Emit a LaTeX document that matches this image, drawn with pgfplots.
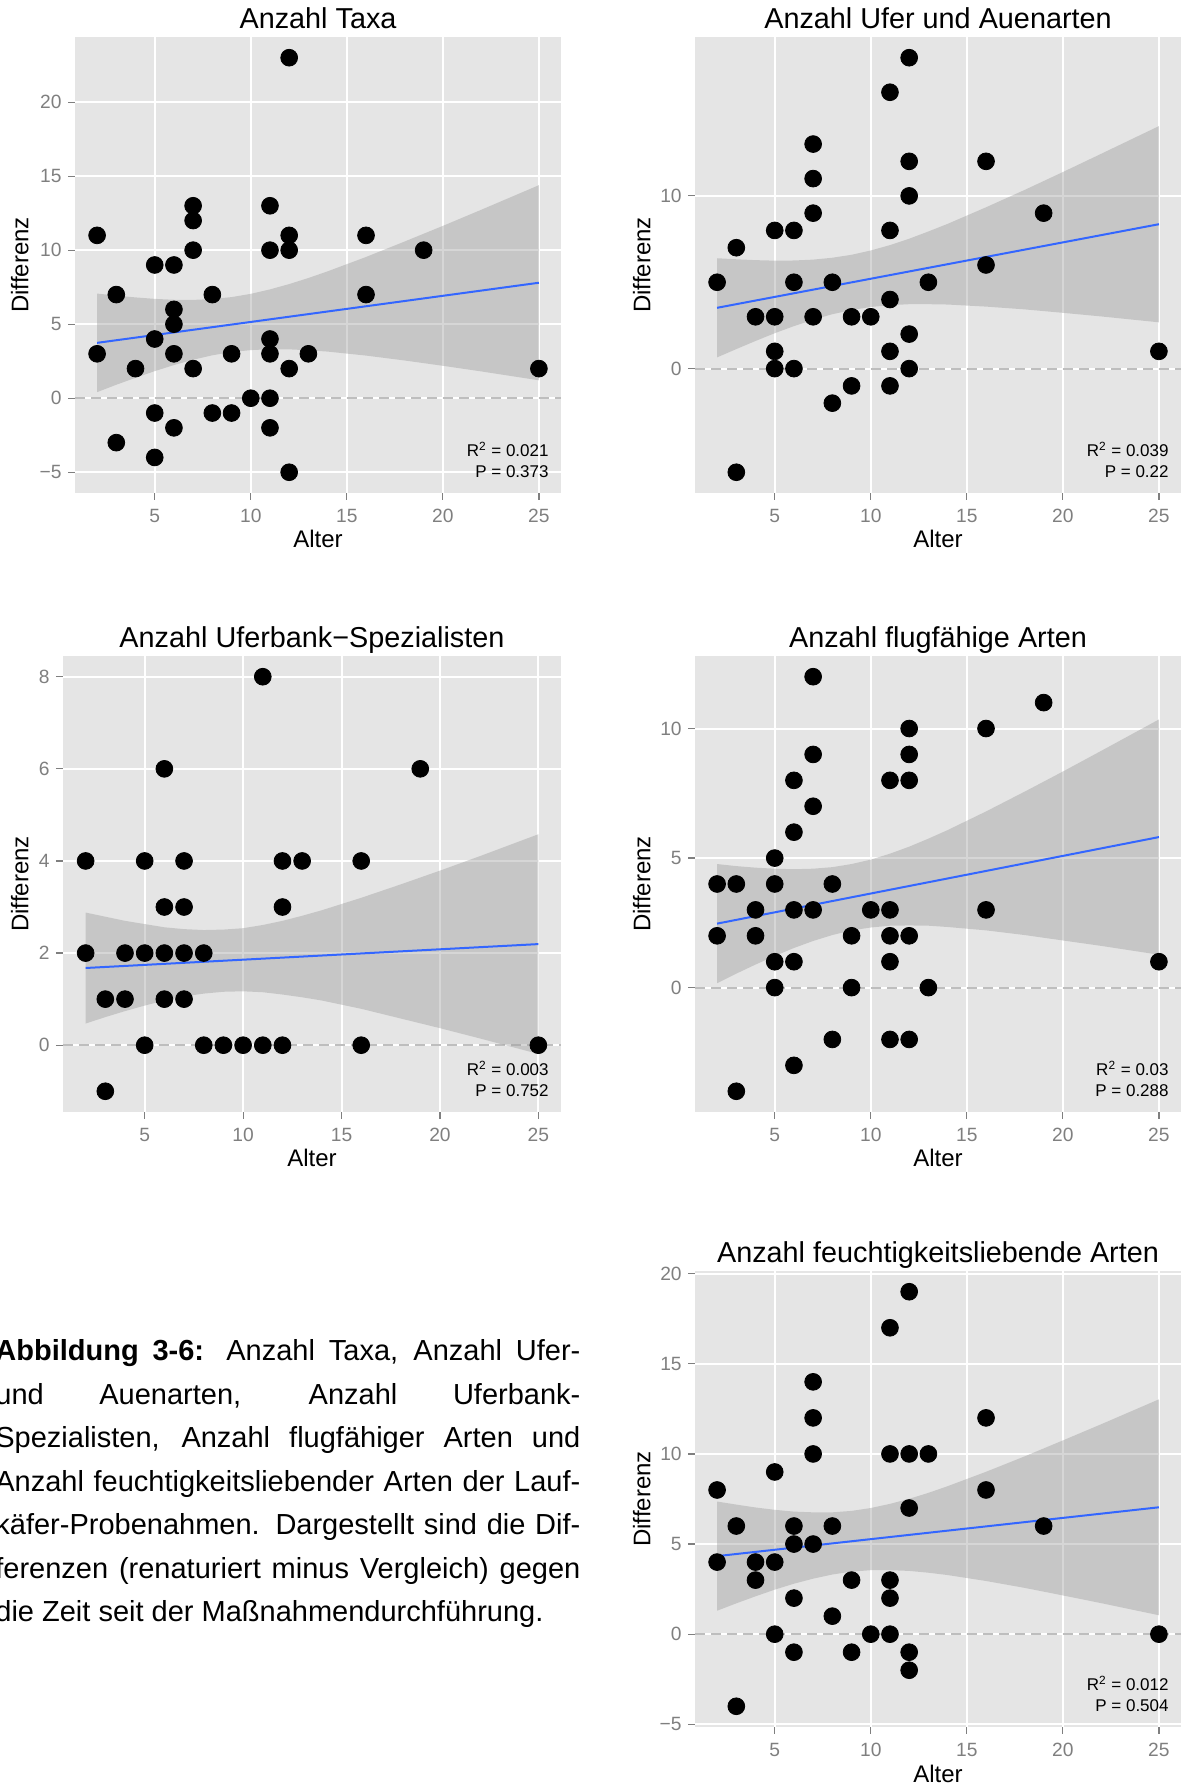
\documentclass[border=0pt]{standalone}
\usepackage{fontspec}
\setmainfont{Liberation Sans}
\usepackage{pgfplots}
\pgfplotsset{compat=1.18}
\definecolor{bggrey}{HTML}{E5E5E5}
\definecolor{tickgrey}{HTML}{7F7F7F}
\definecolor{dashgrey}{HTML}{BEBEBE}
\definecolor{ribbon}{HTML}{999999}
\definecolor{ggblue}{HTML}{3366FF}
\tikzset{ann/.style={anchor=base east, inner sep=0pt, font=\fontsize{8.5}{9}\selectfont}}
\pgfplotsset{
  gg/.style={
    scale only axis, width=243pt, height=228pt,
    xmin=0.85, xmax=26.15,
    xtick={5,10,15,20,25},
    axis background/.style={fill=bggrey},
    axis line style={draw=none},
    grid=major,
    major grid style={white, line width=1pt},
    tick align=outside,
    tick pos=left,
    major tick length=3.5pt,
    tick style={tickgrey, line width=0.6pt},
    ticklabel style={font=\fontsize{9.6}{10}\selectfont, text=tickgrey},
    /pgf/number format/assume math mode=true,
    xticklabel style={anchor=north, inner sep=0pt, yshift=-4.5pt},
    yticklabel style={anchor=east, inner sep=0pt, xshift=-3pt},
    xlabel=Alter, ylabel=Differenz,
    label style={font=\fontsize{12}{14}\selectfont},
    title style={font=\fontsize{14.4}{16}\selectfont, at={(axis description cs:0.5,1)}, anchor=base, yshift=-2pt},
    xlabel style={at={(axis description cs:0.5,0)}, anchor=base, yshift=-27.5pt},
  },
  pts/.style={only marks, mark=*, mark size=4.2pt, black},
  rib/.style={draw=none, fill=ribbon, fill opacity=0.4},
  reg/.style={ggblue, line width=1pt, no marks},
  zero/.style={dashgrey, line width=1pt, dash pattern=on 5pt off 3pt, no marks},
}
\begin{document}
\begin{tikzpicture}
\useasboundingbox (0,0) rectangle (590.5pt,893.5pt);

% Panel 1
\begin{axis}[gg, at={(37.5pt,647pt)}, anchor=south west,
  ymin=-6.4, ymax=24.4, ytick={-5,0,5,10,15,20}, yticklabels={−5,0,5,10,15,20},
  ylabel style={at={(axis description cs:-0.0957,0.5)}, anchor=base},
  title={Anzahl Taxa}]
\addplot[zero] coordinates {(0.85,0) (26.15,0)};
\addplot[rib] coordinates {(2,7.07)(3,6.93)(4,6.81)(5,6.71)(6,6.65)(7,6.64)(8,6.70)(9,6.83)(10,7.05)(11,7.35)(12,7.71)(13,8.12)(14,8.57)(16,9.54)(18,10.58)(20,11.64)(22,12.73)(25,14.39)
 (25,1.21)(22,1.81)(20,2.19)(18,2.55)(16,2.88)(14,3.15)(13,3.24)(12,3.30)(11,3.31)(10,3.25)(9,3.12)(8,2.90)(7,2.60)(6,2.24)(5,1.83)(4,1.38)(3,0.91)(2,0.41)};
\addplot[reg] coordinates {(2,3.74)(25,7.80)};
\addplot[pts] coordinates {(2,11)(2,3)(3,7)(3,-3)(4,2)(5,9)(5,4)(5,-1)(5,-4)(6,9)(6,6)(6,5)(6,3)(6,-2)(7,13)(7,12)(7,10)(7,2)(8,7)(8,-1)(9,3)(9,-1)(10,0)(11,13)(11,10)(11,4)(11,3)(11,0)(11,-2)(12,23)(12,11)(12,10)(12,2)(12,-5)(13,3)(16,11)(16,7)(19,10)(25,2)};
\node[ann] at (rel axis cs:0.9753,0.081) {R\textsuperscript{2} = 0.021};
\node[ann] at (rel axis cs:0.9753,0.035) {P = 0.373};
\end{axis}

% Panel 2
\begin{axis}[gg, at={(347.5pt,647pt)}, anchor=south west,
  ymin=-7.2, ymax=19.2, ytick={0,10}, yticklabels={0,10},
  ylabel style={at={(axis description cs:-0.0916,0.5)}, anchor=base},
  title={Anzahl Ufer und Auenarten}]
\addplot[zero] coordinates {(0.85,0) (26.15,0)};
\addplot[rib] coordinates {(2,6.39)(3,6.33)(4,6.28)(5,6.25)(6,6.26)(7,6.31)(8,6.42)(9,6.59)(10,6.84)(11,7.15)(12,7.52)(13,7.94)(14,8.38)(16,9.34)(18,10.34)(20,11.38)(22,12.44)(25,14.04)
 (25,2.68)(22,3.02)(20,3.23)(18,3.43)(16,3.59)(14,3.71)(13,3.73)(12,3.73)(11,3.67)(10,3.57)(9,3.39)(8,3.15)(7,2.83)(6,2.46)(5,2.05)(4,1.60)(3,1.13)(2,0.65)};
\addplot[reg] coordinates {(2,3.52)(25,8.36)};
\addplot[pts] coordinates {(2,5)(3,7)(3,-6)(4,3)(5,8)(5,3)(5,1)(5,0)(6,8)(6,5)(6,0)(7,13)(7,11)(7,9)(7,3)(8,5)(8,-2)(9,3)(9,-1)(10,3)(11,16)(11,8)(11,4)(11,1)(11,-1)(12,18)(12,12)(12,10)(12,2)(12,0)(13,5)(16,12)(16,6)(19,9)(25,1)};
\node[ann] at (rel axis cs:0.9753,0.081) {R\textsuperscript{2} = 0.039};
\node[ann] at (rel axis cs:0.9753,0.035) {P = 0.22};
\end{axis}

% Panel 3
\begin{axis}[gg, width=249pt, at={(31.5pt,337.5pt)}, anchor=south west,
  ymin=-1.45, ymax=8.45, ytick={0,2,4,6,8}, yticklabels={0,2,4,6,8},
  ylabel style={at={(axis description cs:-0.0693,0.5)}, anchor=base},
  title={Anzahl Uferbank−Spezialisten}]
\addplot[zero] coordinates {(0.85,0) (26.15,0)};
\addplot[rib] coordinates {(2,2.88)(3,2.79)(4,2.70)(5,2.63)(6,2.56)(7,2.52)(8,2.50)(9,2.51)(10,2.54)(11,2.61)(12,2.70)(13,2.81)(14,2.93)(16,3.20)(18,3.49)(20,3.79)(22,4.10)(25,4.58)
 (25,-0.19)(22,0.15)(20,0.37)(18,0.58)(16,0.79)(14,0.97)(13,1.04)(12,1.10)(11,1.15)(10,1.17)(9,1.16)(8,1.12)(7,1.06)(6,0.97)(5,0.86)(4,0.74)(3,0.61)(2,0.47)};
\addplot[reg] coordinates {(2,1.676)(25,2.195)};
\addplot[pts] coordinates {(2,4)(2,2)(3,1)(3,-1)(4,2)(4,1)(5,4)(5,2)(5,0)(6,6)(6,3)(6,2)(6,1)(7,4)(7,3)(7,2)(7,1)(8,2)(8,0)(9,0)(10,0)(11,8)(11,0)(12,4)(12,3)(12,0)(13,4)(16,4)(16,0)(19,6)(25,0)};
\node[ann] at (rel axis cs:0.976,0.081) {R\textsuperscript{2} = 0.003};
\node[ann] at (rel axis cs:0.976,0.035) {P = 0.752};
\end{axis}

% Panel 4
\begin{axis}[gg, at={(347.5pt,337.5pt)}, anchor=south west,
  ymin=-4.8, ymax=12.8, ytick={0,5,10}, yticklabels={0,5,10},
  ylabel style={at={(axis description cs:-0.0916,0.5)}, anchor=base},
  title={Anzahl flugfähige Arten}]
\addplot[zero] coordinates {(0.85,0) (26.15,0)};
\addplot[rib] coordinates {(2,4.77)(3,4.69)(4,4.63)(5,4.59)(6,4.57)(7,4.59)(8,4.65)(9,4.77)(10,4.94)(11,5.17)(12,5.44)(13,5.75)(14,6.08)(16,6.80)(18,7.56)(20,8.34)(22,9.14)(25,10.35)
 (25,1.27)(22,1.61)(20,1.82)(18,2.03)(16,2.21)(14,2.34)(13,2.39)(12,2.40)(11,2.39)(10,2.32)(9,2.21)(8,2.03)(7,1.80)(6,1.53)(5,1.22)(4,0.89)(3,0.54)(2,0.17)};
\addplot[reg] coordinates {(2,2.47)(25,5.81)};
\addplot[pts] coordinates {(2,4)(2,2)(3,4)(3,-4)(4,3)(4,2)(5,5)(5,4)(5,1)(5,0)(6,8)(6,6)(6,3)(6,1)(6,-3)(7,12)(7,9)(7,7)(7,3)(8,4)(8,-2)(9,2)(9,0)(10,3)(11,8)(11,3)(11,2)(11,1)(11,-2)(12,10)(12,9)(12,8)(12,2)(12,-2)(13,0)(16,10)(16,3)(19,11)(25,1)};
\node[ann] at (rel axis cs:0.9753,0.081) {R\textsuperscript{2} = 0.03};
\node[ann] at (rel axis cs:0.9753,0.035) {P = 0.288};
\end{axis}

% Panel 5
\begin{axis}[gg, at={(347.5pt,30pt)}, anchor=south west,
  ymin=-5.15, ymax=20.15, ytick={-5,0,5,10,15,20}, yticklabels={−5,0,5,10,15,20},
  ylabel style={at={(axis description cs:-0.0916,0.5)}, anchor=base},
  title={Anzahl feuchtigkeitsliebende Arten}]
\addplot[zero] coordinates {(0.85,0) (26.15,0)};
\addplot[rib] coordinates {(2,7.36)(3,7.19)(4,7.03)(5,6.90)(6,6.80)(7,6.76)(8,6.76)(9,6.84)(10,7.00)(11,7.23)(12,7.51)(13,7.84)(14,8.21)(16,9.01)(18,9.86)(20,10.75)(22,11.65)(25,13.03)
 (25,1.05)(22,1.72)(20,2.15)(18,2.57)(16,2.95)(14,3.28)(13,3.41)(12,3.51)(11,3.55)(10,3.55)(9,3.47)(8,3.31)(7,3.08)(6,2.80)(5,2.47)(4,2.10)(3,1.71)(2,1.30)};
\addplot[reg] coordinates {(2,4.33)(25,7.04)};
\addplot[pts] coordinates {(2,8)(2,4)(3,6)(3,-4)(4,4)(4,3)(5,9)(5,4)(5,0)(6,6)(6,5)(6,2)(6,-1)(7,14)(7,12)(7,10)(7,5)(8,6)(8,1)(9,3)(9,-1)(10,0)(11,17)(11,10)(11,3)(11,2)(11,0)(12,19)(12,10)(12,7)(12,-1)(12,-2)(13,10)(16,12)(16,8)(19,6)(25,0)};
\node[ann] at (rel axis cs:0.9753,0.081) {R\textsuperscript{2} = 0.012};
\node[ann] at (rel axis cs:0.9753,0.035) {P = 0.504};
\end{axis}

% Caption
\begin{scope}[every node/.style={anchor=base west, inner sep=0pt, font=\fontsize{14.5}{17}\selectfont}]
\node at (-2.5pt,213pt) {\makebox[292.5pt][s]{\textbf{Abbildung 3-6:} Anzahl Taxa, Anzahl Ufer-}};
\node at (-2.5pt,191.25pt) {\makebox[292.5pt][s]{und Auenarten, Anzahl Uferbank-}};
\node at (-2.5pt,169.5pt) {\makebox[292.5pt][s]{Spezialisten, Anzahl flugfähiger Arten und}};
\node at (-2.5pt,147.75pt) {\makebox[292.5pt][s]{Anzahl feuchtigkeitsliebender Arten der Lauf-}};
\node at (-2.5pt,126pt) {\makebox[292.5pt][s]{käfer-Probenahmen. Dargestellt sind die Dif-}};
\node at (-2.5pt,104.25pt) {\makebox[292.5pt][s]{ferenzen (renaturiert minus Vergleich) gegen}};
\node at (-2.5pt,82.5pt) {die Zeit seit der Maßnahmendurchführung.};
\end{scope}
\end{tikzpicture}
\end{document}
